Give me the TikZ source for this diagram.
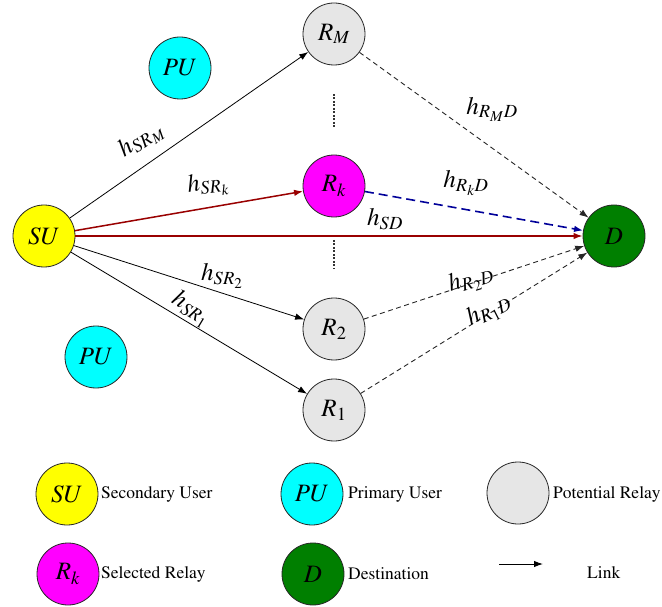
\documentclass[tikz,border=0pt]{standalone}
\usepackage[T1]{fontenc}
\usepackage{mathptmx}
\usetikzlibrary{arrows.meta}
\definecolor{suyel}{HTML}{FFFF00}
\definecolor{pucyan}{HTML}{00FFFF}
\definecolor{relgray}{HTML}{E6E6E6}
\definecolor{selmag}{HTML}{FF00FF}
\definecolor{dgreen}{HTML}{007F00}
\definecolor{linkred}{HTML}{990000}
\definecolor{linkblue}{HTML}{000099}
\tikzset{
  nd/.style={circle,draw=black!85,line width=0.8pt,minimum size=62pt,inner sep=0pt,
             font=\fontsize{25}{28}\selectfont},
  sunode/.style={nd,fill=suyel},
  punode/.style={nd,fill=pucyan},
  relnode/.style={nd,fill=relgray},
  selnode/.style={nd,fill=selmag},
  dnode/.style={nd,fill=dgreen},
  tip/.style={-{Latex[length=9pt,width=6.5pt]}},
  blklink/.style={tip,draw=black,line width=0.8pt},
  redlink/.style={tip,draw=linkred,fill=linkred,line width=1.5pt},
  dashlink/.style={tip,draw=black!85,line width=0.9pt,dash pattern=on 5pt off 3.5pt},
  bluelink/.style={tip,draw=linkblue,line width=1.6pt,dash pattern=on 9pt off 5pt},
  elab/.style={font=\fontsize{25}{28}\selectfont,inner sep=0pt},
  legtext/.style={font=\fontsize{17.5}{20}\selectfont,anchor=west,inner sep=0pt},
  dotline/.style={line width=2pt,dash pattern=on 1.6pt off 1.9pt,black!80}
}
\begin{document}
\begin{tikzpicture}[x=1pt,y=-1pt]
\useasboundingbox (0,0) rectangle (662,607);
% main nodes
\node[sunode] (SU) at (44,236) {$SU$};
\node[punode] (PU1) at (180,68) {$PU$};
\node[punode] (PU2) at (96,357) {$PU$};
\node[relnode] (RM) at (334,34) {$R_M$};
\node[selnode] (Rk) at (334,186) {$R_k$};
\node[relnode] (R2) at (334,329) {$R_2$};
\node[relnode] (R1) at (334,410) {$R_1$};
\node[dnode] (D) at (614,236) {$D$};
% dotted separators
\coordinate (d1a) at (334,94); \coordinate (d1b) at (334,127);
\coordinate (d2a) at (334,240); \coordinate (d2b) at (334,269);
\draw[dotline] (d1a) -- (d1b);
\draw[dotline] (d2a) -- (d2b);
% links
\draw[blklink] (SU) -- (RM);
\draw[redlink] (SU) -- (Rk);
\draw[redlink] (SU) -- (D);
\draw[blklink] (SU) -- (R2);
\draw[blklink] (SU) -- (R1);
\draw[dashlink] (RM) -- (D);
\draw[bluelink] (Rk) -- (D);
\draw[dashlink] (R2) -- (D);
\draw[dashlink] (R1) -- (D);
% link labels
\node[elab,rotate=35] (lSRM) at (141,140) {$h_{SR_M}$};
\node[elab,rotate=9] (lSRk) at (208,185) {$h_{SR_k}$};
\node[elab] (lSD) at (385,219) {$h_{SD}$};
\node[elab] (lRMD) at (492,109) {$h_{R_M D}$};
\node[elab] (lRkD) at (466,183) {$h_{R_k D}$};
\node[elab] (lSR2) at (222,276) {$h_{SR_2}$};
\node[elab,rotate=-31] (lSR1) at (191,309) {$h_{SR_1}$};
\node[elab,rotate=17] (lR2D) at (471,280) {$h_{R_2 D}$};
\node[elab,rotate=27] (lR1D) at (489,311) {$h_{R_1 D}$};
% legend
\node[sunode] (gSU) at (67,494) {$SU$};
\node[legtext] (tSU) at (101,494) {Secondary User};
\node[punode] (gPU) at (312,494) {$PU$};
\node[legtext] (tPU) at (348,494) {Primary User};
\node[relnode] (gRel) at (518,493) {};
\node[legtext] (tRel) at (553,494) {Potential Relay};
\node[selnode] (gRk) at (68,574) {$R_k$};
\node[legtext] (tRk) at (101,574) {Selected Relay};
\node[dnode] (gD) at (313,574) {$D$};
\node[legtext] (tD) at (348,574) {Destination};
\coordinate (ga) at (499,564); \coordinate (gb) at (543,564);
\draw[blklink,line width=1pt] (ga) -- (gb);
\node[legtext] (tLink) at (587,573) {Link};
\end{tikzpicture}
\end{document}
